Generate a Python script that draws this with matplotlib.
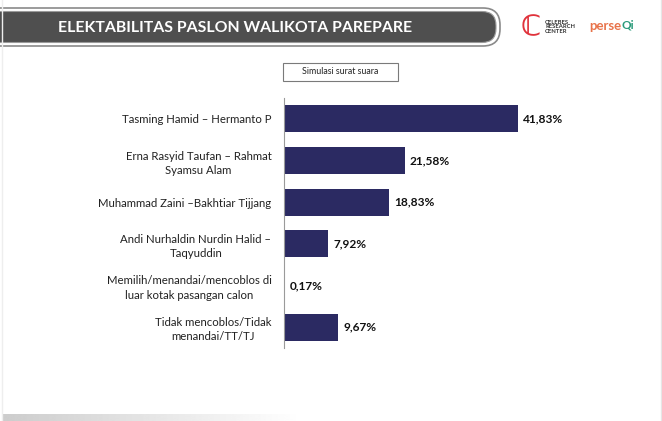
import numpy as np
import matplotlib.pyplot as plt
from matplotlib.patches import FancyBboxPatch, Rectangle

# --- Data ---
categories = [
    "Tasming Hamid \u2013 Hermanto P",
    "Erna Rasyid Taufan \u2013 Rahmat\nSyamsu Alam",
    "Muhammad Zaini \u2013Bakhtiar Tijjang",
    "Andi Nurhaldin Nurdin Halid \u2013\nTaqyuddin",
    "Memilih/menandai/mencoblos di\nluar kotak pasangan calon",
    "Tidak mencoblos/Tidak\nmenandai/TT/TJ",
]
values = [41.83, 21.58, 18.83, 7.92, 0.17, 9.67]
value_labels = ["41,83%", "21,58%", "18,83%", "7,92%", "0,17%", "9,67%"]

title = "ELEKTABILITAS PASLON WALIKOTA PAREPARE"
subtitle = "Simulasi surat suara"

W, H = 662, 421
plt.rcParams['font.family'] = ['Lato', 'DejaVu Sans']

fig = plt.figure(figsize=(W / 100, H / 100), dpi=100)
fig.patch.set_facecolor('white')

# --- Background decoration in pixel coordinates ---
bg = fig.add_axes([0, 0, 1, 1], zorder=0)
bg.axis('off')

# header banner with double outline
bg.add_patch(FancyBboxPatch((-30, 8), 530, 38, boxstyle="round,pad=0,rounding_size=17",
                            facecolor='white', edgecolor='#8a8a8a', lw=1.2))
bg.add_patch(FancyBboxPatch((-30, 11.5), 526, 31, boxstyle="round,pad=0,rounding_size=14",
                            facecolor='#4f4f4f', edgecolor='#9a9a9a', lw=0.8))
bg.text(235, 28, title, color='white', fontsize=11.4, fontweight='bold',
        ha='center', va='center')

# logos (approximation)
bg.text(531, 27, "\u2102", color='#e0333c', fontsize=20, fontweight='bold',
        ha='center', va='center')
bg.text(545, 27, "CELEBES\nRESEARCH\nCENTER", color='#333333', fontsize=4.2,
        fontweight='bold', ha='left', va='center', linespacing=0.95)
bg.text(589, 26, "perse", color='#e8734a', fontsize=9.5, fontweight='bold',
        ha='left', va='center')
bg.text(622, 25, "Qi", color='#2a9a7a', fontsize=8.5, fontweight='bold',
        ha='left', va='center')

# subtitle box
bg.add_patch(Rectangle((283, 63), 115, 18, facecolor='white', edgecolor='#7a7a7a', lw=0.8))
bg.text(340.5, 72, subtitle, fontsize=6.4, ha='center', va='center', color='#222222')

# bottom gradient strip and side edges
grad = np.concatenate([np.linspace(0.8, 1.0, 300), np.ones(362)])
bg.imshow(np.tile(grad, (2, 1)), extent=[2, W, H, 414], cmap='gray', vmin=0, vmax=1,
          aspect='auto', interpolation='bilinear')
bg.plot([661, 661], [0, H], color='#e6e6e6', lw=1)
bg.plot([1.5, 1.5], [0, H], color='#eeeeee', lw=1)
bg.set_xlim(0, W)
bg.set_ylim(H, 0)

# --- Bar chart ---
ax = fig.add_axes([284 / W, (H - 348) / H, 280 / W, 250 / H], zorder=1)
ax.patch.set_alpha(0)
y = np.arange(len(categories))
ax.barh(y, values, height=0.65, color='#2b2a62')
ax.set_xlim(0, 50)
ax.set_ylim(len(categories) - 0.5, -0.5)

for yi, v, lab in zip(y, values, value_labels):
    ax.text(v + 0.9, yi, lab, va='center', ha='left', fontsize=8.6,
            fontweight='bold', color='#111111')

ax.set_yticks(y)
ax.set_yticklabels(categories, fontsize=8.2, color='#222222', multialignment='center',
                   linespacing=1.35)
ax.tick_params(axis='y', length=0, pad=9)
ax.set_xticks([])
for s in ['top', 'right', 'bottom']:
    ax.spines[s].set_visible(False)
ax.spines['left'].set_color('#9a9a9a')
ax.spines['left'].set_linewidth(0.8)

fig.savefig('out.png', dpi=100, facecolor='white')
